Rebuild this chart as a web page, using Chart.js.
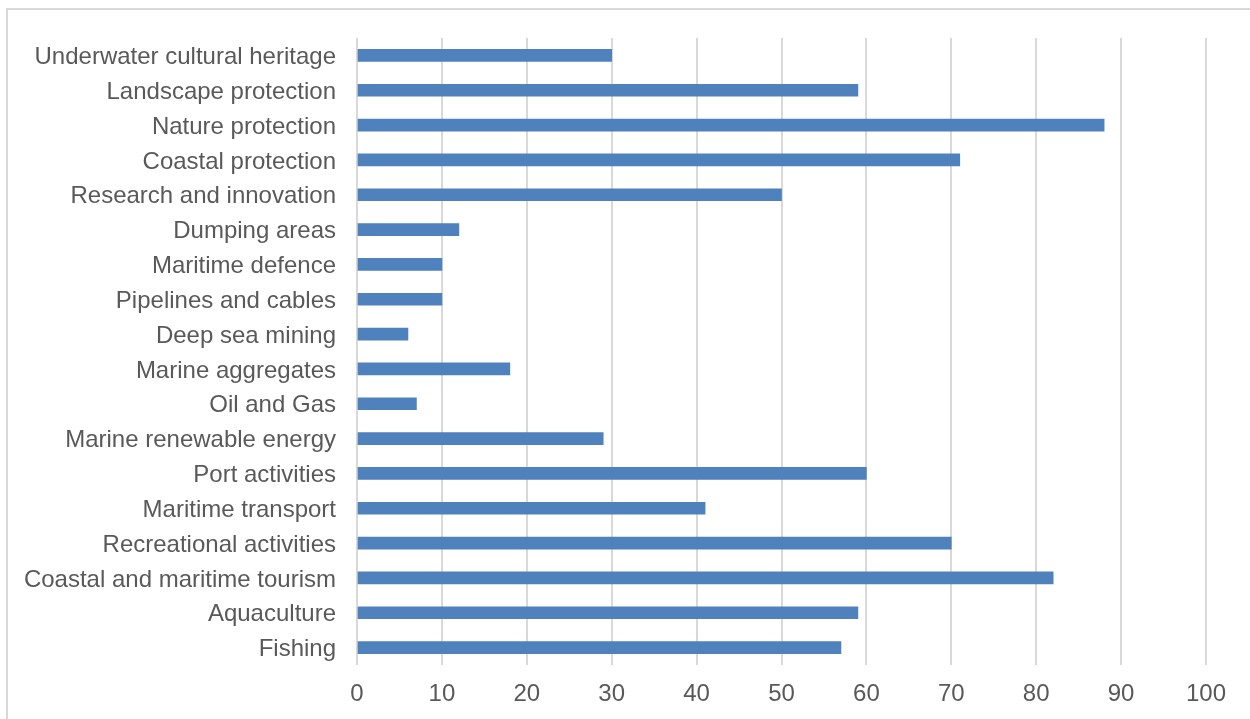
<!DOCTYPE html>
<html>
<head>
<meta charset="utf-8">
<script src="https://cdn.jsdelivr.net/npm/chart.js@4"></script>
<style>
  body { margin: 0; background: #fff; overflow: hidden; }
  #frame { position: absolute; left: 6px; top: 8px; width: 1260px; height: 720px; border: 2px solid #d9d9d9; }
  #wrap { position: absolute; left: 0; top: 0; width: 1250px; height: 719px; }
</style>
</head>
<body>
<div id="frame"></div>
<div id="wrap"><canvas id="myChart"></canvas></div>
<script>
var categories = [
    'Underwater cultural heritage',
    'Landscape protection',
    'Nature protection',
    'Coastal protection',
    'Research and innovation',
    'Dumping areas',
    'Maritime defence',
    'Pipelines and cables',
    'Deep sea mining',
    'Marine aggregates',
    'Oil and Gas',
    'Marine renewable energy',
    'Port activities',
    'Maritime transport',
    'Recreational activities',
    'Coastal and maritime tourism',
    'Aquaculture',
    'Fishing'
];
var values = [30, 59, 88, 71, 50, 12, 10, 10, 6, 18, 7, 29, 60, 41, 70, 82, 59, 57];
var xTicks = [0, 10, 20, 30, 40, 50, 60, 70, 80, 90, 100];

var ctx = document.getElementById('myChart');

var myBarChart = new Chart(ctx, {
    type: 'bar',
    data: {
        labels: categories,
        datasets: [{
            data: values,
            backgroundColor: '#4f81bd',
            barThickness: 12
        }]
    },
    options: {
        indexAxis: 'y',
        responsive: true,
        maintainAspectRatio: false,
        animation: false,
        layout: { padding: { top: 38, right: 44, left: 0, bottom: 0 } },
        plugins: { legend: { display: false }, tooltip: { enabled: false } },
        scales: {
            x: {
                min: 0,
                max: 100,
                afterBuildTicks: function(scale) {
                    scale.ticks = xTicks.map(function(v) { return { value: v }; });
                },
                afterFit: function(scale) { scale.height = 54; },
                grid: { color: '#d9d9d9', lineWidth: 2, drawTicks: false },
                border: { display: false },
                ticks: {
                    color: '#595959',
                    padding: 15,
                    font: { family: 'Liberation Sans', size: 24 }
                }
            },
            y: {
                afterFit: function(scale) { scale.width = 357; },
                grid: { display: false },
                border: { display: false },
                ticks: {
                    color: '#595959',
                    padding: 13,
                    labelOffset: 2,
                    font: { family: 'Liberation Sans', size: 24 }
                }
            }
        }
    }
});
</script>
</body>
</html>
